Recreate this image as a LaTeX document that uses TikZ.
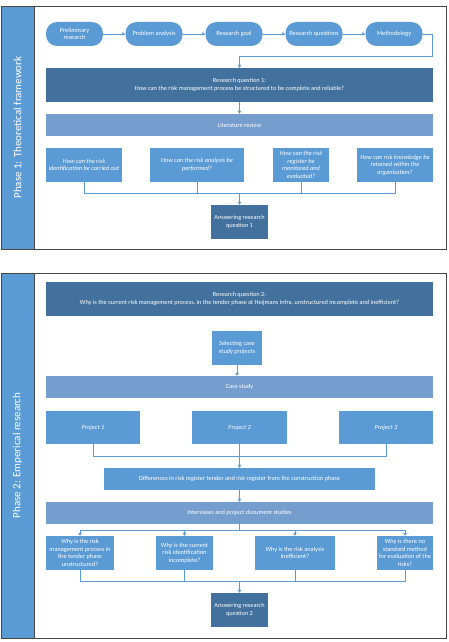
\documentclass[tikz,border=0pt]{standalone}
\usepackage{fontspec}
\setmainfont{Carlito}
\usepackage{tikz}
\usetikzlibrary{arrows.meta,calc,positioning}
\definecolor{dkblue}{RGB}{65,113,156}
\definecolor{mdblue}{RGB}{91,155,213}
\definecolor{ltblue}{RGB}{117,158,206}
\definecolor{frame}{RGB}{70,70,70}

\begin{document}
\begin{tikzpicture}[x=1pt,y=-1pt,
  box/.style={rectangle,inner sep=1pt,text=white,align=center,
    font=\fontsize{6.3}{7.6}\selectfont},
  wh/.style 2 args={minimum width=#1pt,minimum height=#2pt},
  dark/.style={box,fill=dkblue},
  mid/.style={box,fill=mdblue},
  light/.style={box,fill=ltblue},
  qbox/.style={mid,font=\fontsize{6.3}{7.6}\selectfont\itshape},
  pill/.style={mid,rounded corners=11pt,wh={57}{24}},
  ln/.style={draw=mdblue,line width=0.6pt},
  arr/.style={ln,-{Triangle[length=3pt,width=3.5pt]}},
  phase/.style={rotate=90,text=white,font=\fontsize{11}{13}\selectfont}]
\useasboundingbox (0,0) rectangle (449,642);

% phase 1
\draw[frame,line width=0.6pt,fill=white] (1,6) rectangle (446,249);
\draw[frame,line width=0.6pt,fill=mdblue] (1,6) rectangle (34,249);
\node[phase] (ph1) at (17.5,127.5) {Phase 1: Theoretical framework};

\node[pill] (pre) at (74.5,34) {Preliminary\\research};
\node[pill] (prob) at (154,34) {Problem analysis};
\node[pill] (goal) at (234,34) {Research goal};
\node[pill] (quest) at (314,34) {Research questions};
\node[pill] (meth) at (394,34) {Methodology};
\node[dark,wh={387}{34}] (rq1) at (239.5,85)
  {Research question 1:\\How can the risk management process be structured to be complete and reliable?};
\node[light,wh={387}{22}] (lit) at (239.5,125) {Literature review};
\node[qbox,wh={76}{34}] (q1) at (84,165) {How can the risk\\identification be carried out};
\node[qbox,wh={94}{34}] (q2) at (197,165) {How can the risk analysis be\\performed?};
\node[qbox,wh={56}{34}] (q3) at (301,165) {How can the risk\\register be\\monitored and\\evaluated?};
\node[qbox,wh={76}{34}] (q4) at (395,165) {How can risk knowledge be\\retained within the\\organisation?};
\node[dark,wh={57}{34}] (ans1) at (239.5,222) {Answering research\\question 1};

\draw[arr] (pre) -- (prob);
\draw[arr] (prob) -- (goal);
\draw[arr] (goal) -- (quest);
\draw[arr] (quest) -- (meth);
\draw[arr] (meth.east) -- ++(10,0) |- ($(rq1.north)+(0,-11)$) -- (rq1.north);
\draw[arr] (rq1) -- (lit);
\coordinate (bus1) at (239.5,193);
\foreach \q in {q1,q2,q3,q4}
  \draw[ln] (\q.south) |- (bus1);
\draw[arr] (bus1) -- (ans1.north);

% phase 2
\draw[frame,line width=0.6pt,fill=white] (1,273) rectangle (446,638);
\draw[frame,line width=0.6pt,fill=mdblue] (1,273) rectangle (34,638);
\node[phase] (ph2) at (17.5,455.5) {Phase 2: Emperical research};

\node[dark,wh={387}{34}] (rq2) at (239.5,299)
  {Research question 2:\\Why is the current risk management process, in the tender phase at Heijmans Infra, unstructured incomplete and inefficient?};
\node[mid,wh={50}{34}] (sel) at (237,348) {Selecting case\\study projects};
\node[light,wh={387}{22}] (case) at (239.5,387) {Case study};
\node[qbox,wh={94}{33}] (p1) at (93,427.5) {Project 1};
\node[qbox,wh={95}{33}] (p2) at (239.5,427.5) {Project 2};
\node[qbox,wh={94}{33}] (p3) at (386,427.5) {Project 3};
\node[mid,wh={271}{22}] (diff) at (239.5,479)
  {Differences in risk register tender and risk register from the construction phase};
\node[light,wh={387}{22}] (intv) at (239.5,513) {Interviews and project document studies};
\node[mid,wh={68}{34}] (w1) at (80,553) {Why is the risk\\management process in\\the tender phase\\unstructured?};
\node[mid,wh={57}{34}] (w2) at (184.5,553) {Why is the current\\risk identification\\incomplete?};
\node[mid,wh={80}{34}] (w3) at (295,553) {Why is the risk analysis\\inefficient?};
\node[mid,wh={56}{34}] (w4) at (405,553) {Why is there no\\standard method\\for evaluation of the\\risks?};
\node[dark,wh={57}{34}] (ans2) at (239.5,610) {Answering research\\question 2};

\draw[arr] (sel) -- (sel |- case.north);
\coordinate (bus2) at (239.5,456);
\foreach \p in {p1,p2,p3}
  \draw[ln] (\p.south) |- (bus2);
\draw[arr] (bus2) -- (diff.north);
\draw[arr] (diff) -- (intv);
\coordinate (bus3) at (239.5,530);
\draw[ln] (intv.south) -- (bus3);
\foreach \w in {w1,w2,w3,w4}
  \draw[arr] (bus3) -| (\w.north);
\coordinate (bus4) at (239.5,581);
\foreach \w in {w1,w2,w3,w4}
  \draw[ln] (\w.south) |- (bus4);
\draw[arr] (bus4) -- (ans2.north);
\end{tikzpicture}
\end{document}
